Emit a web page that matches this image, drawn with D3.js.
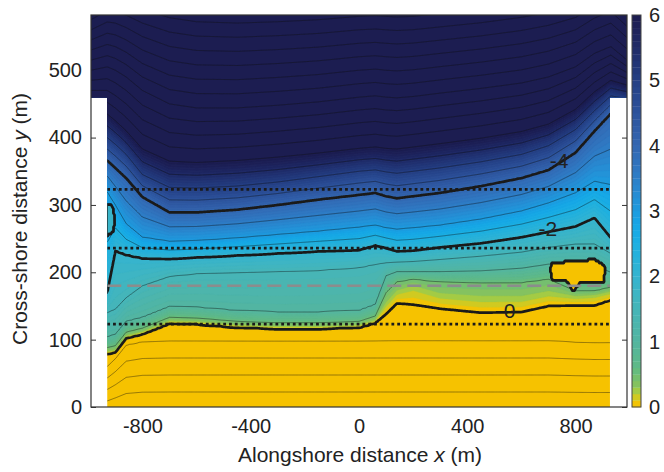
<!DOCTYPE html>
<html>
<head>
<meta charset="UTF-8">
<title>Bathymetry contours</title>
<script src="https://d3js.org/d3.v7.min.js"></script>
<style>
body { margin: 0; background: #fff; }
svg text { font-family: "Liberation Sans", Arial, sans-serif; fill: #222; }
</style>
</head>
<body>
<svg id="chart" width="664" height="472"></svg>
<script>
const stationX = [-990, -930, -900, -860, -800, -700, -600, -450, -300, -150, 0, 60, 100, 140, 200, 300, 450, 600, 700, 800, 870, 930, 990];
// depth (m) of each read contour
const contourDepths = [-2.5, -0.5, 0, 0.25, 0.5, 1, 1.5, 2, 3, 4, 5, 6, 8, 11];
// cross-shore position y (m) of each contour at the stations
const yDm2_5 = [-8, -8, -6, -4, -3, -3, -3, -3, -3, -3, -3, -3, -3, -3, -3, -3, -3, -3, -3, -3, -3, -3, -3];
const yDm0_5 = [60, 60, 72, 92, 97, 98, 98, 98, 98, 98, 98, 98, 98, 98, 98, 98, 98, 98, 98, 96, 95, 95, 95];
const yD0    = [79, 79, 81, 102, 108, 124, 123, 118, 116, 116, 118, 125, 138, 154, 152, 146, 140, 141, 150, 151, 151, 159, 159];
const yD0_25 = [82, 82, 84, 105, 111, 127, 126, 121, 119, 119, 121, 128, 152, 170, 178, 165, 160, 160, 168, 163, 165, 170, 170];
const yD0_5  = [88, 88, 91, 111, 117, 133, 132, 127, 125, 125, 127, 135, 170, 186, 190, 186, 185, 185, 190, 172, 172, 178, 178];
const yD1    = [104, 104, 108, 127, 133, 149, 148, 143, 141, 141, 143, 152, 195, 201, 201, 201, 202, 206, 212, 212, 210, 200, 200];
const yD1_5  = [140, 140, 145, 162, 180, 194, 198, 200, 201, 203, 207, 212, 214, 215, 216, 219, 224, 230, 237, 242, 242, 228, 228];
const yD2    = [169, 169, 232, 226, 221, 220, 222, 225, 228, 231, 233, 240, 236, 231, 232, 237, 243, 252, 260, 268, 281, 251, 251];
const yD3    = [320, 320, 300, 272, 252, 246, 247, 251, 256, 261, 267, 270, 266, 264, 266, 270, 279, 291, 303, 318, 335, 330, 330];
const yD4    = [366, 366, 355, 340, 312, 289, 289, 293, 300, 308, 315, 318, 313, 310, 313, 318, 328, 340, 352, 378, 410, 436, 436];
const yD5    = [405, 400, 390, 375, 345, 326, 325, 328, 334, 342, 350, 352, 349, 347, 350, 355, 364, 375, 388, 412, 440, 462, 458];
const yD6    = [440, 435, 425, 410, 383, 365, 363, 366, 371, 377, 384, 386, 384, 383, 386, 391, 399, 409, 420, 442, 468, 485, 478];
const yD8    = [500, 505, 500, 490, 470, 450, 444, 444, 448, 453, 460, 462, 460, 459, 461, 466, 473, 481, 490, 505, 525, 535, 515];
const yD11   = [590, 605, 605, 600, 590, 578, 572, 570, 572, 575, 580, 581, 580, 579, 580, 584, 590, 598, 605, 615, 630, 640, 615];

// emerged bar (closed 0 contour) near the right end
const islandX = [706, 713, 800, 872, 911, 905, 818, 792, 766, 713];
const islandY = [204, 215, 217, 220, 209, 184, 184, 171, 187, 187];
// shallow patch (closed -2 contour) at the left boundary
const bulgeX = [-935, -915, -905, -902, -905, -915, -935];
const bulgeY = [254, 256, 263, 280, 292, 300, 302];

// survey lines
const dottedY = [323, 236, 123];
const dashedY = [180];

// contour labels
const labelText = ["-4", "-2", "0"];
const labelX = [739, 698, 556];
const labelY = [366, 265, 143];

const xTicks = [-800, -400, 0, 400, 800];
const yTicks = [0, 100, 200, 300, 400, 500];
const cbTicks = [0, 1, 2, 3, 4, 5, 6];

// colour map (depth -> colour)
const cmapDepth = [0, 0.1, 0.2, 0.35, 0.6, 1.0, 1.5, 2.0, 2.5, 2.8, 3.2, 3.6, 4.0, 4.5, 5.0, 5.5, 6.0];
const cmapColor = ["#f6c200", "#edc50a", "#b3cf38", "#84c260", "#5fba86", "#53b5a0", "#46b5b8", "#35b4cf",
                   "#1cafe2", "#16a6e7", "#2590d6", "#2f79c3", "#3467b1", "#2d539c", "#253f84", "#1f2b67", "#1c1b4e"];

const dataXMin = -930, dataXMax = 927, offshoreY = 460;
const fontFamily = "Liberation Sans, Arial, sans-serif";

const svg = d3.select("#chart");
const x = d3.scaleLinear().domain([-990, 990]).range([91, 627]);
const y = d3.scaleLinear().domain([0, 582]).range([407, 15]);
const color = d3.scaleLinear().domain(cmapDepth).range(cmapColor).clamp(true);

const rows = [yDm2_5, yDm0_5, yD0, yD0_25, yD0_5, yD1, yD1_5, yD2, yD3, yD4, yD5, yD6, yD8, yD11];
const island = islandX.map((d, i) => [d, islandY[i]]);
const bulge = bulgeX.map((d, i) => [d, bulgeY[i]]);

function depthAt(px, py) {
    let k = d3.bisectRight(stationX, px) - 1;
    k = Math.max(0, Math.min(stationX.length - 2, k));
    let t = (px - stationX[k]) / (stationX[k + 1] - stationX[k]);
    t = Math.max(0, Math.min(1, t));
    const ys = rows.map(r => r[k] + (r[k + 1] - r[k]) * t);
    let j = d3.bisectRight(ys, py) - 1;
    j = Math.max(0, Math.min(ys.length - 2, j));
    const f = (py - ys[j]) / (ys[j + 1] - ys[j]);
    let v = contourDepths[j] + f * (contourDepths[j + 1] - contourDepths[j]);
    if (d3.polygonContains(island, [px, py])) v = Math.min(v, -0.3);
    if (d3.polygonContains(bulge, [px, py])) v = Math.min(v, 1.8);
    return v;
}

// grid
const gx0 = -1000, gdx = 4, nx = 501;
const gy0 = -6, gdy = 3, ny = 201;
const values = new Float64Array(nx * ny);
for (let j = 0; j < ny; j++) {
    for (let i = 0; i < nx; i++) {
        values[j * nx + i] = depthAt(gx0 + i * gdx, gy0 + j * gdy);
    }
}

const gridPath = d3.geoPath(d3.geoTransform({
    point: function(u, v) {
        this.stream.point(x(gx0 + (u - 0.5) * gdx), y(gy0 + (v - 0.5) * gdy));
    }
}));

// clip to data region
const region = [[-990, 582], [990, 582], [990, offshoreY], [dataXMax, offshoreY], [dataXMax, 0],
                [dataXMin, 0], [dataXMin, offshoreY], [-990, offshoreY]];
svg.append("defs").append("clipPath").attr("id", "dataclip")
    .append("path")
    .attr("d", "M" + region.map(p => [x(p[0]), y(p[1])].join(",")).join("L") + "Z");

// axes (drawn under the field, ticks point inwards)
const plain = d => String(d);
const yAxis = svg.append("g").attr("transform", "translate(91,0)")
    .call(d3.axisLeft(y).tickValues(yTicks).tickSize(-5).tickPadding(9).tickFormat(plain));
const yAxisR = svg.append("g").attr("transform", "translate(627,0)")
    .call(d3.axisRight(y).tickValues(yTicks).tickSize(-5).tickFormat(""));
const xAxis = svg.append("g").attr("transform", "translate(0,407)")
    .call(d3.axisBottom(x).tickValues(xTicks).tickSize(-5).tickPadding(12).tickFormat(plain));
[yAxis, yAxisR, xAxis].forEach(g => {
    g.select(".domain").remove();
    g.selectAll("line").attr("stroke", "#333");
    g.selectAll("text").attr("font-size", 20).attr("fill", "#222").attr("font-family", fontFamily);
});

const field = svg.append("g").attr("clip-path", "url(#dataclip)");
field.append("rect")
    .attr("x", 91).attr("y", 15).attr("width", 536).attr("height", 392)
    .attr("fill", color(0));

const fillThresholds = d3.range(0, 6, 0.1).map(d => +d.toFixed(2));
const contours = d3.contours().size([nx, ny]);
field.append("g").selectAll("path")
    .data(contours.thresholds(fillThresholds)(values))
    .join("path")
    .attr("d", gridPath)
    .attr("fill", d => color(d.value + 0.05))
    .attr("stroke", d => color(d.value + 0.05))
    .attr("stroke-width", 0.3);

const thinLevels = d3.range(-2.5, 11.01, 0.5).map(d => +d.toFixed(2)).filter(d => d !== 0 && d !== 2 && d !== 4);
field.append("g").selectAll("path")
    .data(contours.thresholds(thinLevels)(values))
    .join("path")
    .attr("d", gridPath)
    .attr("fill", "none")
    .attr("stroke", "#111")
    .attr("stroke-opacity", 0.6)
    .attr("stroke-width", 0.7);

field.append("g").selectAll("path")
    .data(contours.thresholds([0, 2, 4])(values))
    .join("path")
    .attr("d", gridPath)
    .attr("fill", "none")
    .attr("stroke", "#1a1a1a")
    .attr("stroke-width", 2.7)
    .attr("stroke-linejoin", "round");

// survey lines
const hline = d3.line().x(d => x(d[0])).y(d => y(d[1]));
field.selectAll(".dotted")
    .data(dottedY)
    .join("path")
    .attr("d", d => hline([[dataXMin, d], [dataXMax, d]]))
    .attr("stroke", "#1a1a1a")
    .attr("stroke-width", 2.8)
    .attr("stroke-dasharray", "2.8,3");
field.selectAll(".dashed")
    .data(dashedY)
    .join("path")
    .attr("d", d => hline([[dataXMin, d], [dataXMax, d]]))
    .attr("stroke", "#8c8c8c")
    .attr("stroke-width", 2.4)
    .attr("stroke-dasharray", "14,6");

// contour labels
svg.append("g").selectAll("text")
    .data(labelText)
    .join("text")
    .attr("x", (d, i) => x(labelX[i]))
    .attr("y", (d, i) => y(labelY[i]))
    .attr("dy", "0.35em")
    .attr("text-anchor", "middle")
    .attr("font-size", 21)
    .attr("fill", "#333")
    .text(d => d);

// frame
svg.append("rect")
    .attr("x", 91).attr("y", 15).attr("width", 536).attr("height", 392)
    .attr("fill", "none").attr("stroke", "#333").attr("stroke-width", 1.2);

// axis titles
svg.append("text")
    .attr("x", 360).attr("y", 462)
    .attr("text-anchor", "middle")
    .attr("font-size", 21)
    .html('Alongshore distance <tspan font-style="italic">x</tspan> (m)');
svg.append("text")
    .attr("transform", "translate(27,219) rotate(-90)")
    .attr("text-anchor", "middle")
    .attr("font-size", 21)
    .html('Cross-shore distance <tspan font-style="italic">y</tspan> (m)');

// colorbar
const cb = d3.scaleLinear().domain([0, 6]).range([407, 15]);
const cbg = svg.append("g");
cbg.selectAll("rect")
    .data(fillThresholds)
    .join("rect")
    .attr("x", 632).attr("width", 9)
    .attr("y", d => cb(d + 0.1))
    .attr("height", d => cb(d) - cb(d + 0.1) + 0.3)
    .attr("fill", d => color(d + 0.05));
cbg.append("rect")
    .attr("x", 632).attr("y", 15).attr("width", 9).attr("height", 392)
    .attr("fill", "none").attr("stroke", "#444").attr("stroke-width", 1);
const cbAxis = svg.append("g").attr("transform", "translate(641,0)")
    .call(d3.axisRight(cb).tickValues(cbTicks).tickSize(0).tickPadding(8).tickFormat(plain));
cbAxis.select(".domain").remove();
cbAxis.selectAll("text").attr("font-size", 20).attr("fill", "#222").attr("font-family", fontFamily);
</script>
</body>
</html>
